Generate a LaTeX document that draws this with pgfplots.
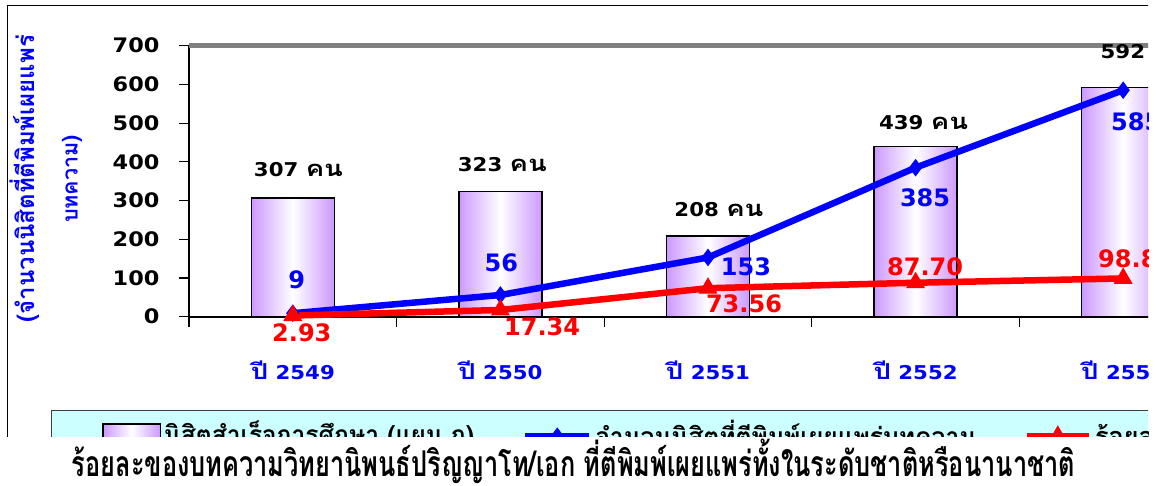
\documentclass[border=0pt]{standalone}
\usepackage{fontspec}
\usepackage{pgfplots}
\pgfplotsset{compat=1.18}
\usepackage{pgfplotstable}
\setmainfont{DejaVu Sans}[FakeStretch=1.12]
\newfontfamily\valfont{DejaVu Sans}
\newfontfamily\thai[Script=Thai]{Loma}
\newfontfamily\thaiw[Script=Thai,FakeStretch=1.25]{Loma}
\definecolor{lav}{RGB}{204,153,255}
\definecolor{legbg}{RGB}{204,255,255}
\definecolor{bord}{RGB}{128,128,128}
\definecolor{pblue}{RGB}{0,0,255}
\definecolor{pred}{RGB}{255,0,0}

\pgfplotstableread{
x y dx dy
0 9 4 33.5
1 56 1 32
2 153 38 -9
3 385 9.5 -29.7
4 585 13 -31.4
}\tblue
\pgfplotstableread{
x y dx dy
0 2.93 9 -17.4
1 17.34 41.7 -16.4
2 73.56 36 -15.5
3 87.70 9.5 15.5
4 98.82 13 20
}\tred

\pgfplotsset{
  barsty/.style={ybar, bar width=83pt, bar shift=0pt, draw=black, line width=1.5pt,
    left color=lav, right color=lav, middle color=white,
    point meta=y,
    nodes near coords={\pgfmathprintnumber{\pgfplotspointmeta} {\thaiw\fontsize{22}{22}\selectfont คน}},
    nodes near coords style={text=black, font=\bfseries\fontsize{19}{19}\selectfont, anchor=center}},
  lshift/.style 2 args={every node near coord/.append style={xshift=#1pt, yshift=#2pt}},
}

\begin{document}
\begin{tikzpicture}[x=1pt,y=1pt]
\useasboundingbox (0,0) rectangle (1157,486);
\begin{scope}
\clip (0,49) rectangle (1148,486);
\draw[line width=1pt] (7.5,0) -- (7.5,480.5) -- (1300,480.5);
\begin{axis}[
  at={(189pt,169.3pt)}, anchor=south west,
  scale only axis, width=1038pt, height=271pt,
  xmin=-0.5, xmax=4.5, ymin=0, ymax=700,
  clip=false,
  axis x line*=bottom, axis y line*=left,
  axis line style={line width=2pt, black},
  ytick={0,100,...,700},
  tick align=outside,
  major tick length=10pt,
  tick style={black, line width=1.2pt},
  /pgf/number format/assume math mode=true,
  yticklabel style={font=\bfseries\fontsize{20}{20}\selectfont, xshift=-16pt},
  xtick={-0.5,0.5,1.5,2.5,3.5,4.5},
  xticklabels={,,,,,},
  extra x ticks={0,1,2,3,4},
  extra x tick labels={{\thaiw\fontsize{22}{22}\selectfont ปี} 2549,{\thaiw\fontsize{22}{22}\selectfont ปี} 2550,{\thaiw\fontsize{22}{22}\selectfont ปี} 2551,{\thaiw\fontsize{22}{22}\selectfont ปี} 2552,{\thaiw\fontsize{22}{22}\selectfont ปี} 2553},
  extra x tick style={major tick length=0pt, xticklabel style={text=pblue, font=\bfseries\fontsize{19}{19}\selectfont, anchor=base, yshift=-63pt}},
  legend columns=3,
  legend cell align=left,
  legend style={at={(0,0)}, anchor=north west, xshift=-138pt, yshift=-93.3pt,
    fill=legbg, draw=black!75, line width=1pt,
    inner xsep=51pt, inner ysep=6pt,
    nodes={inner sep=3pt},
    /tikz/every even column/.append style={column sep=45pt}},
]
\draw[color=bord, line width=4.5pt] (axis cs:-0.5,700) -- (axis cs:4.5,700);

\addplot[barsty, lshift={5.7}{28},
  legend image code/.code={\draw[black,line width=1.5pt,left color=lav,right color=lav,middle color=white] (0pt,-12pt) rectangle (57pt,12pt);}
] coordinates {(0,307)};
\addlegendentry{\raisebox{6pt}{\resizebox{310pt}{!}{\thai\bfseries นิสิตสำเร็จการศึกษา (แผน ก)}}}
\addplot[barsty, lshift={2}{26.6}, forget plot] coordinates {(1,323)};
\addplot[barsty, lshift={11}{26.5}, forget plot] coordinates {(2,208)};
\addplot[barsty, lshift={8}{24.5}, forget plot] coordinates {(3,439)};
\addplot[barsty, lshift={22}{35.5}, forget plot] coordinates {(4,592)};

\addplot[color=pblue, line width=6.5pt, mark=diamond*, mark size=8pt,
  mark options={line width=1pt, solid, fill=pblue},
  point meta=y,
  visualization depends on={\thisrow{dx}\as\mydx},
  visualization depends on={\thisrow{dy}\as\mydy},
  nodes near coords={\pgfmathprintnumber[fixed,precision=0]{\pgfplotspointmeta}},
  nodes near coords style={text=pblue, font=\valfont\bfseries\fontsize{24}{24}\selectfont, anchor=center, xshift=\mydx pt, yshift=\mydy pt},
  legend image code/.code={\draw[pblue,line width=6.5pt,mark=diamond*,mark size=8pt,mark options={line width=1pt,solid,fill=pblue},mark repeat=2,mark phase=2] plot coordinates {(0pt,0pt) (32pt,0pt) (64pt,0pt)};}
] table[x=x,y=y]{\tblue};
\addlegendentry{\raisebox{6pt}{\resizebox{380pt}{!}{\thai\bfseries จำนวนนิสิตที่ตีพิมพ์เผยแพร่บทความ}}}

\addplot[color=pred, line width=6.5pt, mark=triangle*, mark size=10pt,
  mark options={line width=1pt, solid, fill=pred},
  point meta=y,
  visualization depends on={\thisrow{dx}\as\mydx},
  visualization depends on={\thisrow{dy}\as\mydy},
  nodes near coords={\pgfmathprintnumber[fixed,precision=2,fixed zerofill]{\pgfplotspointmeta}},
  nodes near coords style={text=pred, font=\valfont\bfseries\fontsize{24}{24}\selectfont, anchor=center, xshift=\mydx pt, yshift=\mydy pt},
  legend image code/.code={\draw[pred,line width=6.5pt,mark=triangle*,mark size=10pt,mark options={line width=1pt,solid,fill=pred},mark repeat=2,mark phase=2] plot coordinates {(0pt,0pt) (31pt,0pt) (62pt,0pt)};}
] table[x=x,y=y]{\tred};
\addlegendentry{\raisebox{6pt}{\resizebox{380pt}{!}{\thai\bfseries ร้อยละของบทความที่ตีพิมพ์เผยแพร่}}}
\end{axis}
\node[rotate=90, text=pblue] at (25,307.5) {\resizebox{287pt}{!}{\thai\bfseries (จำนวนนิสิตที่ตีพิมพ์เผยแพร่}};
\node[rotate=90, text=pblue] at (72,307) {\resizebox{88pt}{!}{\thai\bfseries บทความ)}};
\end{scope}
\node[anchor=base] at (573.5,9) {\scalebox{1}[1.4]{\resizebox{1003pt}{!}{\thai\bfseries ร้อยละของบทความวิทยานิพนธ์ปริญญาโท/เอก ที่ตีพิมพ์เผยแพร่ทั้งในระดับชาติหรือนานาชาติ}}};
\end{tikzpicture}
\end{document}
